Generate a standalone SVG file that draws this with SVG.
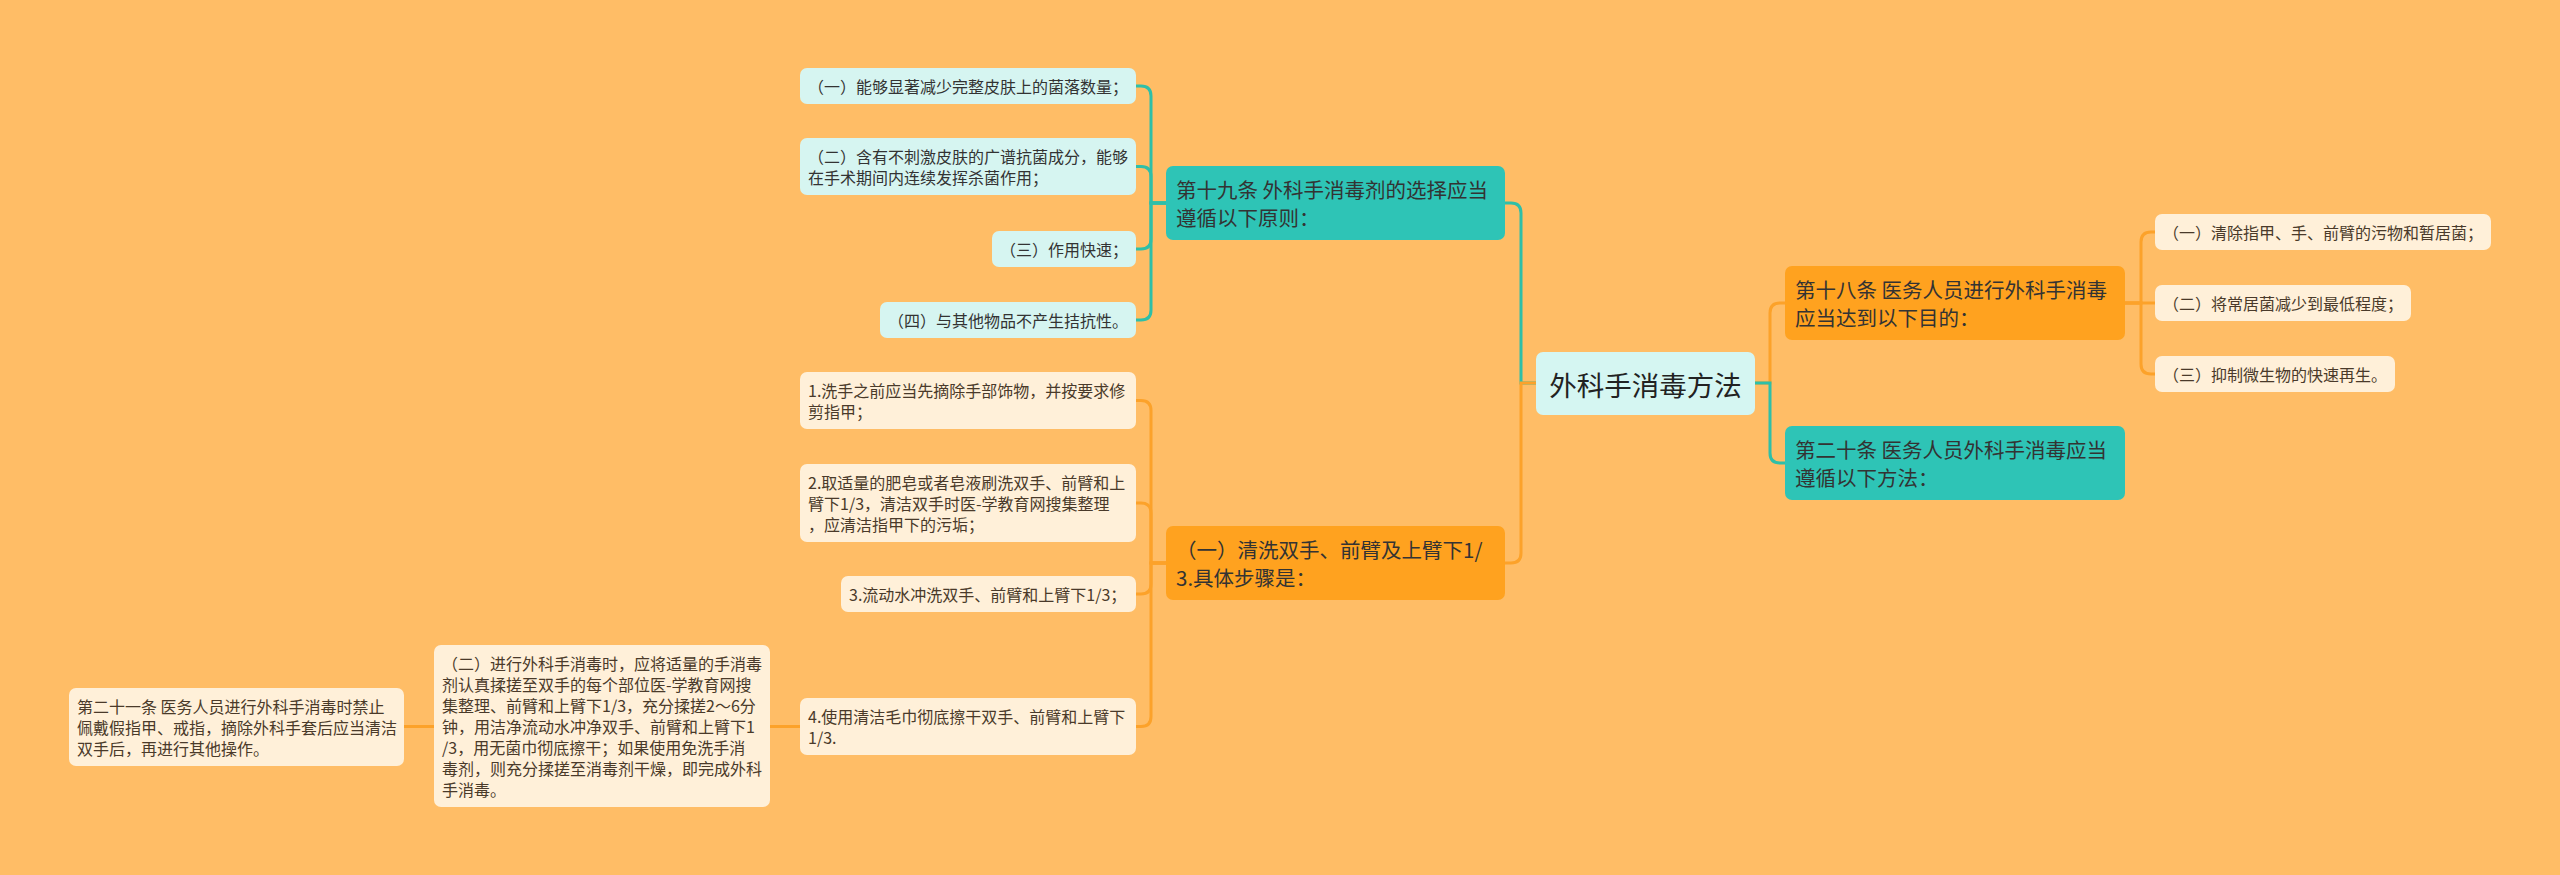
<svg xmlns="http://www.w3.org/2000/svg" width="2560" height="875" viewBox="0 0 2560 875">
<style>
text{font-family:"Noto Sans CJK SC","Noto Sans",sans-serif;dominant-baseline:central}
.root{fill:#D5F6F2}
.teal{fill:#2EC4B6}
.orng{fill:#FFA21F}
.lt{fill:#D6F5F1}
.lo{fill:#FFF0D9}
.tr{font-size:27.5px;fill:#222;text-anchor:middle}
.tm{font-size:20.5px;fill:#333}
.tl{font-size:16px;fill:#333}
.tlo{font-size:16px;fill:#4a3a2a}
.ct{fill:none;stroke:#2FBFA8;stroke-width:3}
.co{fill:none;stroke:#FCA22A;stroke-width:3}
</style>
<rect width="2560" height="875" fill="#FFBD66"/>
<g id="connectors">
<path class="ct" d="M1536 383 H1521 V213 Q1521 203 1511 203 H1505"/>
<path class="co" d="M1536 383 H1521 V553 Q1521 563 1511 563 H1505"/>
<path class="co" d="M1755 383 H1770 V313 Q1770 303 1780 303 H1785"/>
<path class="ct" d="M1755 383 H1770 V453 Q1770 463 1780 463 H1785"/>
<path class="co" d="M2125 303 H2141 V242 Q2141 232 2151 232 H2155"/>
<path class="co" d="M2125 303 H2155"/>
<path class="co" d="M2125 303 H2141 V364 Q2141 374 2151 374 H2155"/>
<path class="ct" d="M1166 203 H1151 V96 Q1151 86 1141 86 H1136"/>
<path class="ct" d="M1166 203 H1151 V176.5 Q1151 166.5 1141 166.5 H1136"/>
<path class="ct" d="M1166 203 H1151 V239 Q1151 249 1141 249 H1136"/>
<path class="ct" d="M1166 203 H1151 V310 Q1151 320 1141 320 H1136"/>
<path class="co" d="M1166 563 H1151 V410.5 Q1151 400.5 1141 400.5 H1136"/>
<path class="co" d="M1166 563 H1151 V513 Q1151 503 1141 503 H1136"/>
<path class="co" d="M1166 563 H1151 V584 Q1151 594 1141 594 H1136"/>
<path class="co" d="M1166 563 H1151 V716.5 Q1151 726.5 1141 726.5 H1136"/>
<path class="co" d="M800 726.5 H770"/>
<path class="co" d="M434 726.5 H404"/>
</g>
<g id="root">
<rect class="root" x="1536" y="352" width="219" height="63" rx="7"/>
<text class="tr" x="1645.5" y="383.5">外科手消毒方法</text>
</g>
<g id="n18">
<rect class="orng" x="1785" y="266" width="340" height="74" rx="7"/>
<text class="tm" x="1795" y="289">第十八条 医务人员进行外科手消毒</text>
<text class="tm" x="1795" y="317">应当达到以下目的：</text>
</g>
<g id="n20">
<rect class="teal" x="1785" y="426" width="340" height="74" rx="7"/>
<text class="tm" x="1795" y="449">第二十条 医务人员外科手消毒应当</text>
<text class="tm" x="1795" y="477">遵循以下方法：</text>
</g>
<g id="n18a">
<rect class="lo" x="2155" y="214" width="336" height="36" rx="7"/>
<text class="tlo" x="2163" y="232">（一）清除指甲、手、前臂的污物和暂居菌；</text>
</g>
<g id="n18b">
<rect class="lo" x="2155" y="285" width="256" height="36" rx="7"/>
<text class="tlo" x="2163" y="303">（二）将常居菌减少到最低程度；</text>
</g>
<g id="n18c">
<rect class="lo" x="2155" y="356" width="240" height="36" rx="7"/>
<text class="tlo" x="2163" y="374">（三）抑制微生物的快速再生。</text>
</g>
<g id="n19">
<rect class="teal" x="1166" y="166" width="339" height="74" rx="7"/>
<text class="tm" x="1176" y="189">第十九条 外科手消毒剂的选择应当</text>
<text class="tm" x="1176" y="217">遵循以下原则：</text>
</g>
<g id="n19a">
<rect class="lt" x="800" y="68" width="336" height="36" rx="7"/>
<text class="tl" x="808" y="86">（一）能够显著减少完整皮肤上的菌落数量；</text>
</g>
<g id="n19b">
<rect class="lt" x="800" y="138" width="336" height="57" rx="7"/>
<text class="tl" x="808" y="156">（二）含有不刺激皮肤的广谱抗菌成分，能够</text>
<text class="tl" x="808" y="177">在手术期间内连续发挥杀菌作用；</text>
</g>
<g id="n19c">
<rect class="lt" x="992" y="231" width="144" height="36" rx="7"/>
<text class="tl" x="1000" y="249">（三）作用快速；</text>
</g>
<g id="n19d">
<rect class="lt" x="880" y="302" width="256" height="36" rx="7"/>
<text class="tl" x="888" y="320">（四）与其他物品不产生拮抗性。</text>
</g>
<g id="nwash">
<rect class="orng" x="1166" y="526" width="339" height="74" rx="7"/>
<text class="tm" x="1176" y="549">（一）清洗双手、前臂及上臂下1/</text>
<text class="tm" x="1176" y="577">3.具体步骤是：</text>
</g>
<g id="w1">
<rect class="lo" x="800" y="372" width="336" height="57" rx="7"/>
<text class="tlo" x="808" y="390">1.洗手之前应当先摘除手部饰物，并按要求修</text>
<text class="tlo" x="808" y="411">剪指甲；</text>
</g>
<g id="w2">
<rect class="lo" x="800" y="464" width="336" height="78" rx="7"/>
<text class="tlo" x="808" y="482">2.取适量的肥皂或者皂液刷洗双手、前臂和上</text>
<text class="tlo" x="808" y="503">臂下1/3，清洁双手时医-学教育网搜集整理</text>
<text class="tlo" x="808" y="524">，应清洁指甲下的污垢；</text>
</g>
<g id="w3">
<rect class="lo" x="841" y="576" width="295" height="36" rx="7"/>
<text class="tlo" x="849" y="594">3.流动水冲洗双手、前臂和上臂下1/3；</text>
</g>
<g id="w4">
<rect class="lo" x="800" y="698" width="336" height="57" rx="7"/>
<text class="tlo" x="808" y="716">4.使用清洁毛巾彻底擦干双手、前臂和上臂下</text>
<text class="tlo" x="808" y="737">1/3.</text>
</g>
<g id="d2">
<rect class="lo" x="434" y="645" width="336" height="162" rx="7"/>
<text class="tlo" x="442" y="663">（二）进行外科手消毒时，应将适量的手消毒</text>
<text class="tlo" x="442" y="684">剂认真揉搓至双手的每个部位医-学教育网搜</text>
<text class="tlo" x="442" y="705">集整理、前臂和上臂下1/3，充分揉搓2～6分</text>
<text class="tlo" x="442" y="726">钟，用洁净流动水冲净双手、前臂和上臂下1</text>
<text class="tlo" x="442" y="747">/3，用无菌巾彻底擦干；如果使用免洗手消</text>
<text class="tlo" x="442" y="768">毒剂，则充分揉搓至消毒剂干燥，即完成外科</text>
<text class="tlo" x="442" y="789">手消毒。</text>
</g>
<g id="n21">
<rect class="lo" x="69" y="688" width="335" height="78" rx="7"/>
<text class="tlo" x="77" y="706">第二十一条 医务人员进行外科手消毒时禁止</text>
<text class="tlo" x="77" y="727">佩戴假指甲、戒指，摘除外科手套后应当清洁</text>
<text class="tlo" x="77" y="748">双手后，再进行其他操作。</text>
</g>
</svg>
